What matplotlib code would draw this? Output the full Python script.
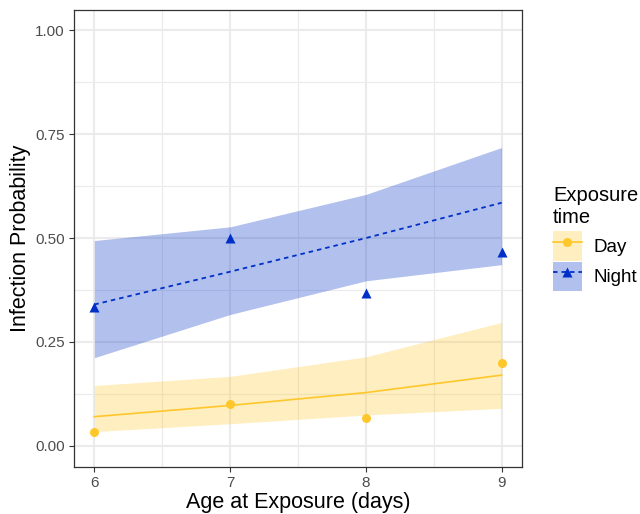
import numpy as np
import matplotlib
matplotlib.use("Agg")
import matplotlib.pyplot as plt
from matplotlib.lines import Line2D
from matplotlib.patches import Patch

plt.rcParams['font.family'] = ['Liberation Sans', 'DejaVu Sans']

age = [6, 7, 8, 9]

# observed proportions
day_obs = [0.033, 0.100, 0.067, 0.200]
night_obs = [0.333, 0.500, 0.367, 0.467]

# fitted probability and confidence band
day_fit = [0.070, 0.097, 0.128, 0.170]
day_lo = [0.034, 0.053, 0.074, 0.090]
day_hi = [0.145, 0.167, 0.214, 0.297]

night_fit = [0.340, 0.419, 0.500, 0.585]
night_lo = [0.212, 0.316, 0.397, 0.436]
night_hi = [0.494, 0.527, 0.605, 0.718]

day_col = "#FFC72C"
night_col = "#0030C8"

fig = plt.figure(figsize=(6.4, 5.14), dpi=100)
ax = fig.add_axes([0.1156, 0.0924, 0.7, 0.8889])

ax.fill_between(age, day_lo, day_hi, color=day_col, alpha=0.3, lw=0, zorder=2)
ax.fill_between(age, night_lo, night_hi, color=night_col, alpha=0.3, lw=0, zorder=2)
ax.plot(age, day_fit, color=day_col, lw=1.2, zorder=3)
ax.plot(age, night_fit, color=night_col, lw=1.3, ls=(0, (2.5, 2.2)), zorder=3)
ax.plot(age, day_obs, 'o', color=day_col, ms=6.5, mec='none', zorder=4)
ax.plot(age, night_obs, '^', color=night_col, ms=7.5, mec='none', zorder=4)

ax.set_xlim(5.85, 9.15)
ax.set_ylim(-0.05, 1.05)
ax.set_xticks(age)
ax.set_yticks([0, 0.25, 0.5, 0.75, 1.0])
ax.set_yticklabels(["0.00", "0.25", "0.50", "0.75", "1.00"])
ax.set_xticks([6.5, 7.5, 8.5], minor=True)
ax.set_yticks([0.125, 0.375, 0.625, 0.875], minor=True)
ax.grid(which='major', color='#EBEBEB', lw=1.5, zorder=0)
ax.grid(which='minor', color='#EBEBEB', lw=0.8, zorder=0)
ax.set_axisbelow(True)
ax.tick_params(which='major', length=3.5, width=0.8, color='#333333',
               labelsize=11, labelcolor='#4D4D4D', pad=3)
ax.tick_params(which='minor', length=0)
for s in ax.spines.values():
    s.set_color('#333333')
    s.set_linewidth(0.9)

ax.set_xlabel("Age at Exposure (days)", fontsize=15.5, labelpad=2)
ax.set_ylabel("Infection Probability", fontsize=15.5, labelpad=3)

handles = [
    (Patch(facecolor=day_col, alpha=0.3, lw=0),
     Line2D([], [], color=day_col, lw=1.2, marker='o', ms=6.5, mec='none')),
    (Patch(facecolor=night_col, alpha=0.3, lw=0),
     Line2D([], [], color=night_col, lw=1.3, ls=(0, (2.5, 2.2)), marker='^', ms=7.5, mec='none')),
]
leg = fig.legend(handles, ["Day", "Night"], title="Exposure\ntime",
                 loc='upper left', bbox_to_anchor=(0.864, 0.638),
                 frameon=False, fontsize=13.5, title_fontsize=14.5,
                 handlelength=1.55, handleheight=2.05, handletextpad=0.6,
                 labelspacing=0.05, borderaxespad=0, borderpad=0)
leg._legend_box.align = "left"
leg._legend_box.sep = 3

fig.savefig("out.png", dpi=100)
